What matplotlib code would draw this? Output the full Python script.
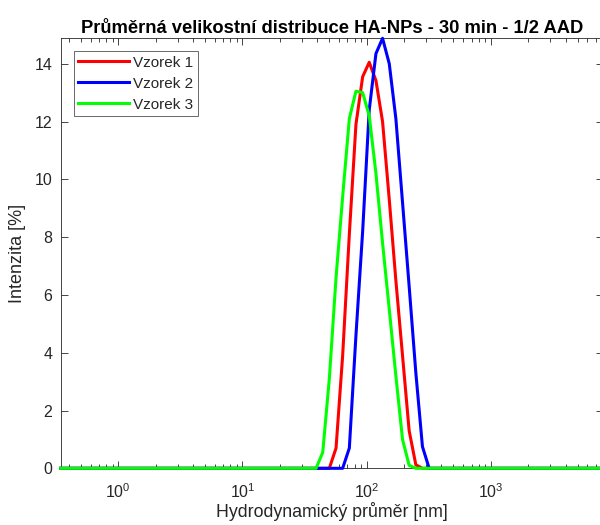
import matplotlib
matplotlib.use("Agg")
import matplotlib.pyplot as plt
from matplotlib.ticker import LogLocator, MultipleLocator

# hydrodynamic diameter bins [nm] (tails are zero)
sizes = [0.344, 39.14, 44.31, 50.07, 56.70, 64.09, 72.55, 82.01, 92.86, 104.9,
         118.8, 134.3, 152.1, 171.9, 194.5, 219.9, 249.0, 281.4, 318.6, 360.1, 8000]

# intensity [%]
vzorek1 = [0, 0, 0, 0, 0.7, 3.9, 8.1, 11.9, 13.55, 14.05,
           13.42, 12.0, 9.3, 6.5, 3.9, 1.3, 0.12, 0, 0, 0, 0]
vzorek2 = [0, 0, 0, 0, 0, 0, 0.7, 4.6, 8.2, 12.4,
           14.35, 14.88, 14.0, 12.1, 9.2, 6.3, 3.3, 0.75, 0, 0, 0]
vzorek3 = [0, 0, 0.55, 3.1, 6.6, 9.4, 12.1, 13.05, 13.0, 12.2,
           10.2, 7.8, 5.5, 3.2, 1.0, 0.1, 0, 0, 0, 0, 0]

labels = ["Vzorek 1", "Vzorek 2", "Vzorek 3"]
colors = ["#ff0000", "#0000ff", "#00ff00"]

plt.rcParams["font.family"] = ["Liberation Sans", "DejaVu Sans"]
plt.rcParams["mathtext.fontset"] = "custom"
plt.rcParams["mathtext.rm"] = "Liberation Sans"
plt.rcParams["mathtext.it"] = "Liberation Sans:italic"
plt.rcParams["mathtext.bf"] = "Liberation Sans:bold"

dark = "#262626"

fig = plt.figure(figsize=(6, 5.25), dpi=100)
ax = fig.add_axes([60.7 / 600, 56.7 / 525, (603 - 60.7) / 600, 430 / 525])

for ys, lab, c in zip([vzorek1, vzorek2, vzorek3], labels, colors):
    ax.plot(sizes, ys, color=c, lw=2.2, label=lab, clip_on=False, zorder=3)

ax.set_xscale("log")
ax.set_xlim(0.344, 8000)
ax.set_ylim(0, 14.88)
ax.yaxis.set_major_locator(MultipleLocator(2))
ax.xaxis.set_major_locator(LogLocator(base=10, numticks=10))
ax.xaxis.set_minor_locator(LogLocator(base=10, subs=range(2, 10), numticks=10))

for s in ax.spines.values():
    s.set_color(dark)
    s.set_linewidth(0.6)

ax.tick_params(which="both", direction="in", top=True, right=True,
               colors=dark, labelcolor=dark, labelsize=11.5, width=0.6)
ax.tick_params(which="major", length=5, pad=6)
ax.tick_params(which="minor", length=3)
ax.tick_params(axis="x", pad=10)

ax.set_title("Průměrná velikostní distribuce HA-NPs - 30 min - 1/2 AAD",
             fontsize=13.2, fontweight="bold", color="black", pad=4)
ax.set_xlabel("Hydrodynamický průměr [nm]", fontsize=12.8, color=dark, labelpad=1)
ax.set_ylabel("Intenzita [%]", fontsize=13, color=dark, labelpad=6)

leg = ax.legend(loc="upper left", bbox_to_anchor=(0.024, 0.97), fontsize=11,
                frameon=True, fancybox=False, borderaxespad=0, handlelength=3.3,
                handletextpad=0.3, labelspacing=0.45, borderpad=0.3)
leg.get_frame().set_edgecolor(dark)
leg.get_frame().set_linewidth(0.6)
for t in leg.get_texts():
    t.set_color(dark)

fig.savefig("out.png", dpi=100)
